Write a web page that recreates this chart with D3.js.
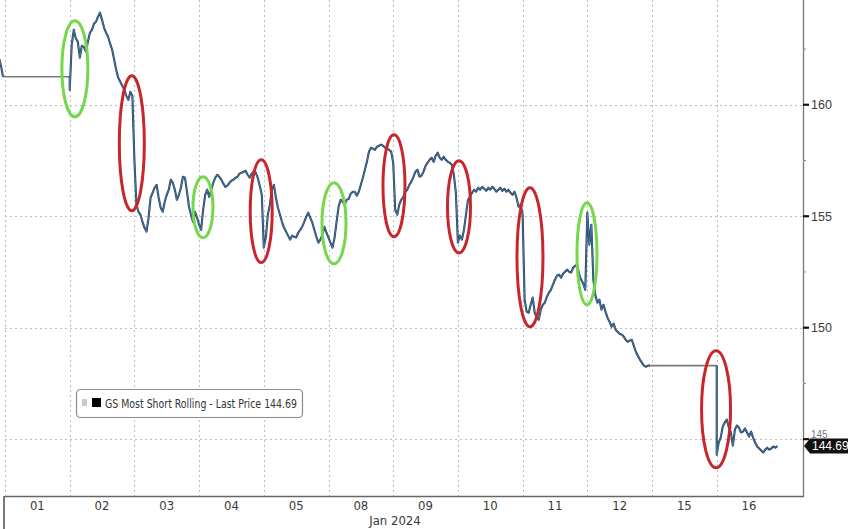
<!DOCTYPE html>
<html><head><meta charset="utf-8">
<script src="https://cdn.jsdelivr.net/npm/d3@7"></script>
<style>
html,body{margin:0;padding:0;background:#fff;overflow:hidden;}
svg{display:block;}
</style></head><body>
<svg id="c" width="848" height="529"></svg>
<script>
// ---------------- DATA ----------------
const dayLabels = ["01","02","03","04","05","08","09","10","11","12","15","16"];
const holidays = ["01","15"];
const monthLabel = "Jan 2024";
const yTicks = [145, 150, 155, 160];
const yMinorTicks = [147.5, 152.5, 157.5, 162.5];
const seriesName = "GS Most Short Rolling - Last Price";
const lastPrice = 144.69;

// intraday prices, evenly spaced through each session (32 samples per day)
const dec29Tail = [162.47, 162.11, 161.75, 161.26];
const jan02 = [160.67,162.69,163.36,163.00,162.83,162.11,162.65,162.60,162.38,162.83,163.23,163.36,163.63,163.72,163.95,164.13,
               163.81,163.45,163.23,163.05,162.74,162.47,162.02,161.57,161.21,161.03,160.85,160.67,160.40,160.22,160.58,160.40];
const jan03 = [157.53,155.52,155.20,155.07,154.75,154.48,154.31,154.93,155.83,156.05,156.28,156.41,155.83,155.38,155.20,155.65,
               155.96,156.19,156.64,156.50,156.19,155.74,155.96,156.28,156.77,156.73,156.10,155.43,155.07,154.75,155.20,154.93];
const jan04 = [154.62,154.39,155.29,155.96,156.19,155.87,156.19,156.50,156.73,156.86,156.77,156.64,156.46,156.32,156.37,156.50,
               156.59,156.64,156.73,156.77,156.91,156.95,157.00,157.04,156.86,156.73,156.91,157.00,156.95,156.73,156.37,155.96];
const jan05 = [153.59,154.04,155.07,155.52,156.19,156.41,155.83,155.38,155.07,154.75,154.48,154.31,154.13,153.95,154.13,154.08,
               154.04,154.26,154.39,154.53,154.75,154.98,155.16,154.93,154.71,154.39,154.08,153.81,153.95,154.17,154.53,154.26];
const jan08 = [154.04,153.81,153.59,154.04,154.75,155.43,155.74,155.65,155.52,155.74,155.78,156.01,156.10,156.10,155.92,156.10,
               156.41,156.73,157.09,157.44,157.89,158.07,158.03,157.98,158.12,158.16,158.21,158.16,158.07,158.03,157.98,157.89];
const jan09 = [157.40,155.29,155.07,155.52,155.74,155.87,156.10,156.19,156.41,156.55,156.77,157.00,157.09,156.77,156.82,157.00,
               157.26,157.40,157.53,157.62,157.44,157.71,157.85,157.62,157.53,157.67,157.53,157.44,157.40,157.31,156.86,156.05];
const jan10 = [153.81,154.13,153.95,154.39,155.07,155.74,155.87,156.05,156.19,156.10,156.28,156.19,156.32,156.23,156.14,156.28,
               156.19,156.32,156.23,156.10,156.19,156.28,156.14,156.23,156.10,156.19,156.05,155.96,156.10,155.83,155.43,155.52];
const jan11 = [155.07,151.26,150.72,150.67,151.03,151.35,150.67,150.45,150.36,150.81,151.03,151.12,151.39,151.57,151.70,151.93,
               152.15,152.33,152.38,152.24,152.42,152.51,152.60,152.51,152.47,152.69,152.78,152.83,152.38,152.15,151.97,151.70];
const jan12 = [155.16,153.72,154.62,152.15,151.44,151.12,151.26,150.81,151.03,150.72,150.45,150.27,150.04,150.18,149.91,149.82,
               149.73,149.69,149.60,149.46,149.37,149.42,149.46,149.19,148.92,148.74,148.57,148.43,148.30,148.25,148.30,148.30];
const jan16 = [144.30,144.85,145.07,145.57,145.75,145.88,145.52,145.30,144.71,145.43,145.61,145.52,145.30,145.34,145.48,145.30,
               145.12,145.34,145.07,144.85,144.67,144.58,144.49,144.40,144.53,144.62,144.53,144.58,144.67,144.62,144.69];

// highlighted moves: slot position of the move, price top and bottom, kind
const highlightSlot   = [1.08, 1.96, 3.06, 3.96, 5.085, 6.012, 7.017, 8.114, 8.995, 10.99];
const highlightTop    = [163.77, 161.30, 156.77, 157.53, 156.50, 158.65, 157.49, 156.28, 155.61, 148.97];
const highlightBottom = [159.46, 155.25, 154.04, 152.92, 152.87, 154.08, 153.36, 150.04, 151.03, 143.72];
const highlightKind   = ["up","down","up","down","up","down","down","down","up","down"];

const sessions = {"02":jan02,"03":jan03,"04":jan04,"05":jan05,"08":jan08,"09":jan09,
                  "10":jan10,"11":jan11,"12":jan12,"16":jan16};
const SAMPLES = 32;

// ---------------- DRAW ----------------
const W = 848, H = 529;
const plot = {left: 5, right: 803, top: 0, bottom: 496};
const svg = d3.select("#c");

const x = d3.scaleLinear().domain([0, 12]).range([5, 781.4]);
const y = d3.scaleLinear().domain([142.45, 164.7]).range([496, 0]);

svg.append("defs").append("clipPath").attr("id","clip")
  .append("rect").attr("x",0).attr("y",0).attr("width",plot.right).attr("height",plot.bottom);

// gridlines
const grid = svg.append("g").attr("stroke","#bdbdbd").attr("stroke-width",1).attr("stroke-dasharray","2,3");
grid.selectAll("line.h").data(yTicks).join("line")
  .attr("x1",plot.left).attr("x2",plot.right)
  .attr("y1",d=>Math.round(y(d))+0.5).attr("y2",d=>Math.round(y(d))+0.5);
grid.selectAll("line.v").data(d3.range(dayLabels.length)).join("line")
  .attr("x1",d=>Math.round(x(d))+0.5).attr("x2",d=>Math.round(x(d))+0.5)
  .attr("y1",plot.top).attr("y2",plot.bottom);

// build line runs
const runs = [];
const greySegs = [];
let current = dec29Tail.map((v,j)=>({s: -1 + (SAMPLES - dec29Tail.length + j)/SAMPLES, v}));
let gap = false;
dayLabels.forEach((d,i)=>{
  if (holidays.includes(d)) { gap = true; return; }
  const pts = sessions[d].map((v,k)=>({s: i + k/SAMPLES, v}));
  if (gap) {
    const prev = current[current.length-1];
    greySegs.push([prev, {s: pts[0].s, v: prev.v}]);
    runs.push(current);
    current = [{s: pts[0].s, v: prev.v}];
    gap = false;
  }
  current = current.concat(pts);
});
runs.push(current);

const line = d3.line().x(p=>x(p.s)).y(p=>y(p.v));
const pg = svg.append("g").attr("clip-path","url(#clip)");
pg.selectAll("path.g").data(greySegs).join("path")
  .attr("d",line).attr("fill","none").attr("stroke","#7a7a7a").attr("stroke-width",1.6);
pg.selectAll("path.dk").data(runs).join("path")
  .attr("d",line).attr("fill","none").attr("stroke","#24405c").attr("stroke-width",2.1)
  .attr("stroke-linejoin","round");
pg.selectAll("path.bl").data(runs).join("path")
  .attr("d",line).attr("fill","none").attr("stroke","#5b93c9").attr("stroke-width",0.8)
  .attr("stroke-linejoin","round").attr("opacity",0.8);

// highlight ellipses
const halfW = [13, 12.5, 10, 11, 12, 11, 11.5, 13, 10, 14.5];
svg.append("g").selectAll("ellipse").data(highlightSlot).join("ellipse")
  .attr("cx",(s)=>x(s))
  .attr("cy",(s,i)=>(y(highlightTop[i])+y(highlightBottom[i]))/2)
  .attr("rx",(s,i)=>halfW[i])
  .attr("ry",(s,i)=>(y(highlightBottom[i])-y(highlightTop[i]))/2)
  .attr("fill","none")
  .attr("stroke",(s,i)=>highlightKind[i]==="up" ? "#74d84a" : "#c9262c")
  .attr("stroke-width",3);

// axes lines
svg.append("line").attr("x1",plot.right+0.5).attr("x2",plot.right+0.5).attr("y1",0).attr("y2",plot.bottom)
  .attr("stroke","#777").attr("stroke-width",1.3);
svg.append("line").attr("x1",plot.left).attr("x2",plot.right+1).attr("y1",plot.bottom+0.5).attr("y2",plot.bottom+0.5)
  .attr("stroke","#666").attr("stroke-width",1.3);
svg.append("line").attr("x1",plot.left-1).attr("x2",plot.left-1).attr("y1",plot.bottom).attr("y2",H)
  .attr("stroke","#555").attr("stroke-width",1.6);

// right axis ticks & labels
const by = y(lastPrice);
const ra = svg.append("g");
ra.selectAll("line.mi").data(yMinorTicks).join("line")
  .attr("x1",plot.right).attr("x2",plot.right+3)
  .attr("y1",d=>y(d)).attr("y2",d=>y(d)).attr("stroke","#888").attr("stroke-width",1);
ra.selectAll("line.ma").data(yTicks).join("line")
  .attr("x1",plot.right).attr("x2",plot.right+6)
  .attr("y1",d=>y(d)).attr("y2",d=>y(d)).attr("stroke","#111").attr("stroke-width",2.2);
ra.selectAll("text").data(yTicks).join("text")
  .attr("x",plot.right+8)
  .attr("y",d=> Math.abs(y(d)-by) < 14 ? by-8.5 : y(d)+4.5)
  .attr("font-family","'Liberation Sans', Arial, sans-serif")
  .attr("font-size",d=> Math.abs(y(d)-by) < 14 ? 10 : 12.5)
  .attr("fill",d=> Math.abs(y(d)-by) < 14 ? "#777" : "#3a3a3a").text(d=>d);

// last price badge
svg.append("path")
  .attr("d",`M${plot.right+1},${by} L${plot.right+7},${by-7.5} L${W},${by-7.5} L${W},${by+7.5} L${plot.right+7},${by+7.5} Z`)
  .attr("fill","#111");
svg.append("text").attr("x",plot.right+9).attr("y",by+4.3)
  .attr("font-family","'Liberation Sans', Arial, sans-serif").attr("font-size",12)
  .attr("fill","#fff").text(lastPrice.toFixed(2));

// bottom labels
svg.append("g").selectAll("text").data(dayLabels).join("text")
  .attr("x",(d,i)=>x(i+0.5)).attr("y",510)
  .attr("text-anchor","middle")
  .attr("font-family","'Liberation Sans Narrow','DejaVu Sans Condensed',sans-serif").attr("font-size",13)
  .attr("fill","#3a3a3a").text(d=>d);
svg.append("text").attr("x",395).attr("y",525).attr("text-anchor","middle")
  .attr("font-family","'Liberation Sans Narrow','DejaVu Sans Condensed',sans-serif").attr("font-size",13)
  .attr("fill","#3a3a3a").text(monthLabel);

// legend
const lg = svg.append("g");
lg.append("rect").attr("x",76.5).attr("y",389.5).attr("width",226).attr("height",28).attr("rx",4)
  .attr("fill","#fff").attr("stroke","#8a8a8a").attr("stroke-width",1.2);
lg.append("rect").attr("x",82).attr("y",399).attr("width",5).attr("height",7).attr("fill","#c8c8c8");
lg.append("rect").attr("x",92).attr("y",398).attr("width",9).attr("height",9).attr("fill","#000");
lg.append("text").attr("x",105).attr("y",407.5)
  .attr("font-family","'Liberation Sans Narrow','DejaVu Sans Condensed',sans-serif").attr("font-size",12.5)
  .attr("fill","#333").attr("textLength",192).attr("lengthAdjust","spacingAndGlyphs")
  .text(seriesName + " " + lastPrice.toFixed(2));
</script>
</body></html>
